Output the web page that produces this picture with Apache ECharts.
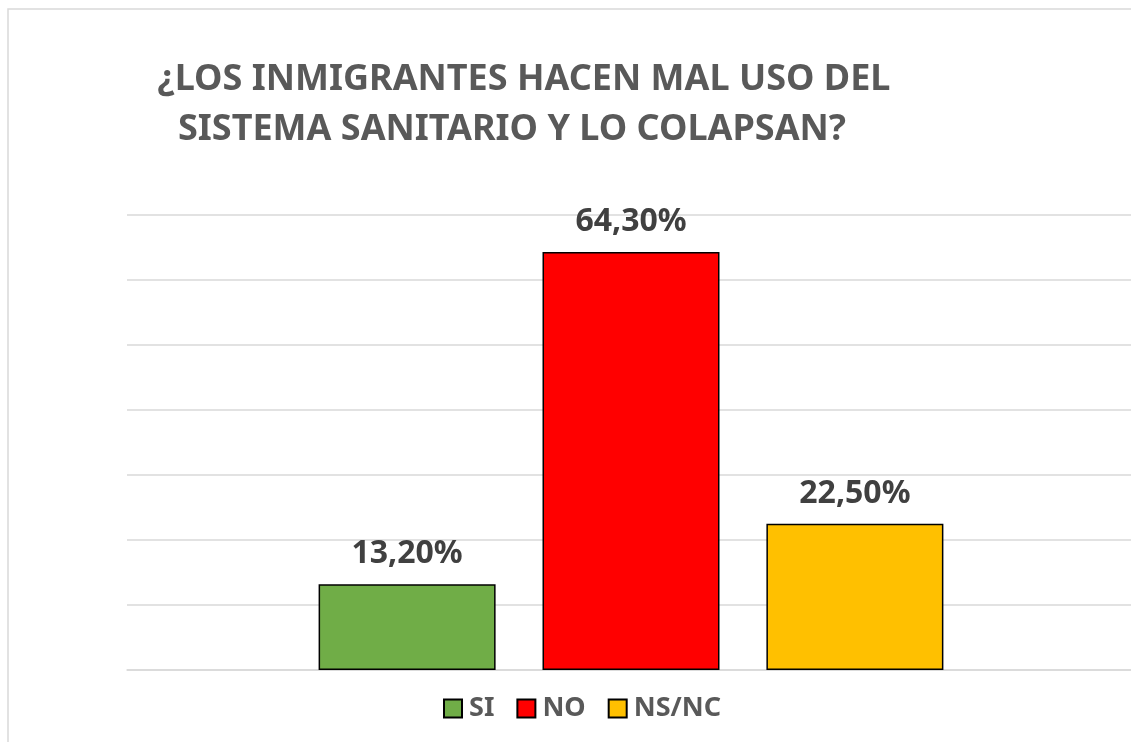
<!DOCTYPE html>
<html><head><meta charset="utf-8">
<script src="https://cdn.jsdelivr.net/npm/echarts@6/dist/echarts.min.js"></script>
<style>html,body{margin:0;padding:0;background:#fff;overflow:hidden}#c{width:1139px;height:742px}</style>
</head><body><div id="c"></div>
<script>
const titleLines = ['¿LOS INMIGRANTES HACEN MAL USO DEL', 'SISTEMA SANITARIO Y LO COLAPSAN?'];
const categories = [''];
const seriesNames = ['SI', 'NO', 'NS/NC'];
const seriesValues = [13.2, 64.3, 22.5];
const seriesColors = ['#70AD47', '#FF0000', '#FFC000'];
const FONT = 'Noto Sans';

const titleStyle = { fontFamily: FONT, fontSize: 36, fontWeight: 'bold', color: '#595959' };
const chart = echarts.init(document.getElementById('c'));
chart.setOption({
  animation: false,
  backgroundColor: '#fff',
  title: [
    { text: titleLines[0], left: 524, top: 62, textAlign: 'center', padding: 0, textStyle: titleStyle },
    { text: titleLines[1], left: 512, top: 112, textAlign: 'center', padding: 0, textStyle: titleStyle }
  ],
  graphic: [{
    type: 'rect', silent: true,
    shape: { x: 8, y: 9, width: 1300, height: 900 },
    style: { fill: 'none', stroke: '#d9d9d9', lineWidth: 1.5 }
  }],
  legend: {
    top: 690, left: 438,
    icon: 'rect',
    itemWidth: 18, itemHeight: 18, itemGap: 22,
    textStyle: { fontFamily: FONT, fontSize: 27, fontWeight: 'bold', color: '#595959', padding: [0, 0, 0, 2] },
    data: seriesNames
  },
  grid: { left: 127, top: 215, width: 1008, bottom: 72 },
  xAxis: {
    type: 'category', data: categories,
    axisLine: { show: true, lineStyle: { color: '#d9d9d9', width: 1.5 } },
    axisTick: { show: false }, axisLabel: { show: false }
  },
  yAxis: {
    type: 'value', min: 0, max: 70, interval: 10,
    axisLine: { show: false }, axisTick: { show: false }, axisLabel: { show: false },
    splitLine: { lineStyle: { color: '#d9d9d9', width: 1.5 } }
  },
  series: seriesNames.map((n, i) => ({
    name: n, type: 'bar', data: [seriesValues[i]],
    barWidth: 177, barGap: '26.5%',
    itemStyle: { color: seriesColors[i], borderColor: '#000', borderWidth: 1.5 },
    label: {
      show: true, position: 'top', distance: 14,
      formatter: p => p.value.toFixed(2).replace('.', ',') + '%',
      fontFamily: FONT, fontSize: 32, fontWeight: 'bold', color: '#404040'
    }
  }))
});
</script></body></html>
